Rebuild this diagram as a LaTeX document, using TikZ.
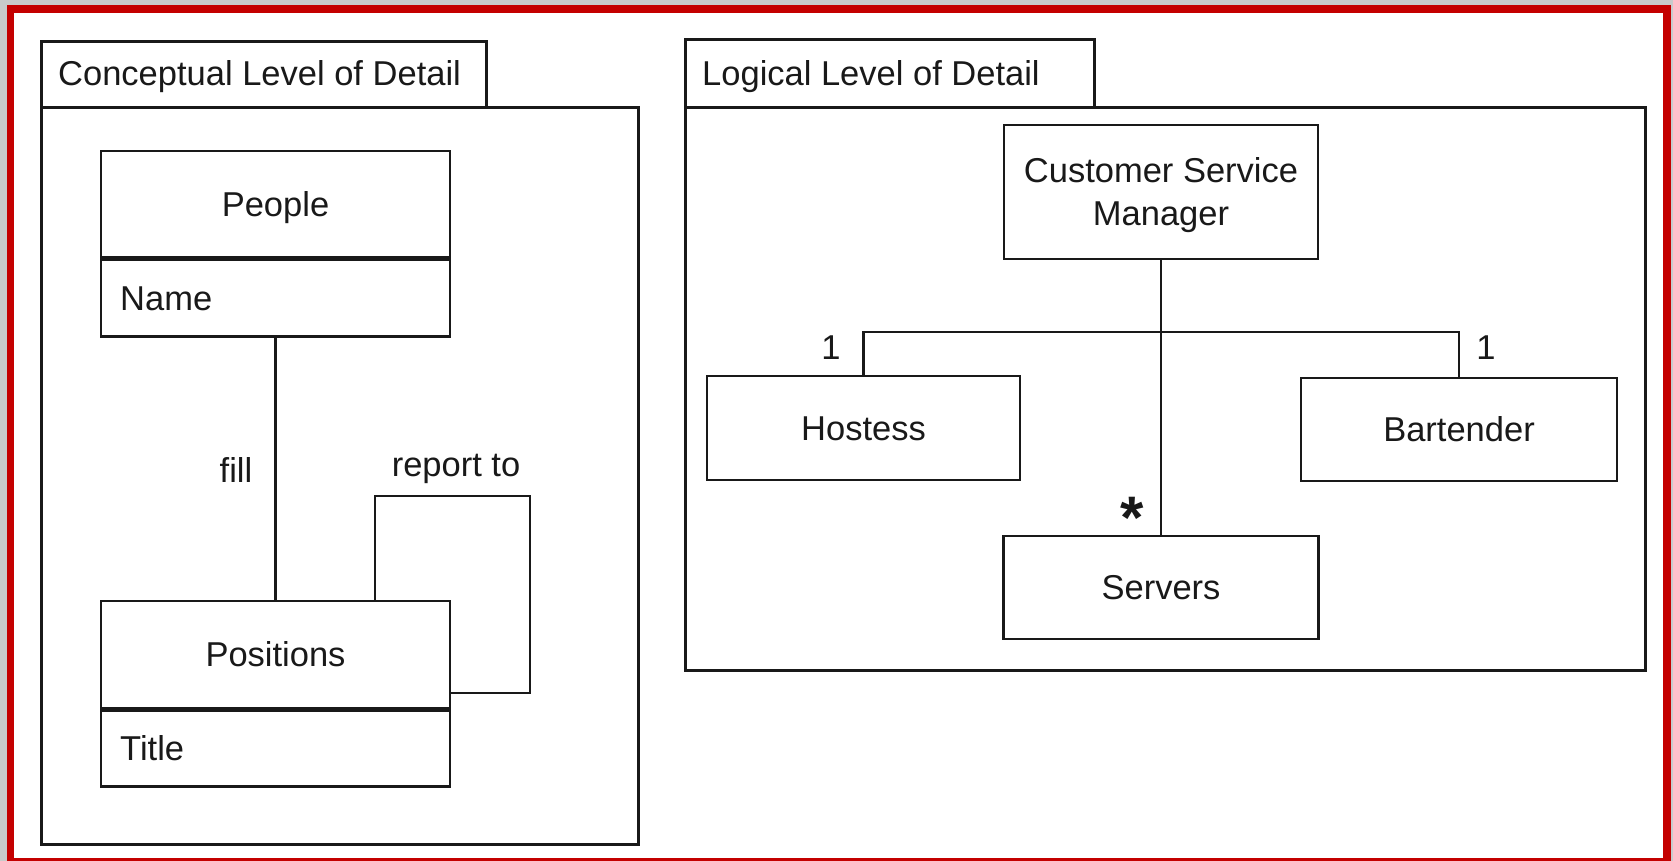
\documentclass[tikz,border=0pt]{standalone}
\usepackage{fontspec}
\setmainfont{Liberation Sans}
\definecolor{bordred}{RGB}{196,0,0}
\definecolor{edgegray}{RGB}{200,203,203}
\definecolor{ink}{RGB}{25,25,25}
\begin{document}
\begin{tikzpicture}[x=1pt,y=-1pt,
  every node/.style={text=ink},
  umlbox/.style={draw=ink, line width=2.9pt, inner sep=0pt, text height=24.7pt, text depth=0pt},
  txt/.style={inner sep=0pt, text height=24.7pt, text depth=0pt},
  wire/.style={draw=ink, line width=2.7pt},
  frameline/.style={draw=ink, line width=2.9pt}]
\fontsize{34.5}{43}\selectfont
% background and red border
\useasboundingbox (0,0) rectangle (1673,861);
\fill[edgegray] (0,0) rectangle (1673,861);
\fill[bordred] (7,5) rectangle (1671,861);
\fill[white] (14,13) rectangle (1663,858);

% ---------- Conceptual ----------
\node[umlbox, anchor=north west, minimum width=445pt, minimum height=66pt] (ctab) at (40,40) {};
\node[txt, anchor=west] (ctabtext) at (58,73) {Conceptual Level of Detail};
\node[umlbox, anchor=north west, minimum width=597pt, minimum height=737pt] (cframe) at (40,106) {};

\node[umlbox, minimum width=349pt, minimum height=106pt] (peopleHead) at (275.5,204) {People};
\node[umlbox, anchor=north, minimum width=349pt, minimum height=77pt] (peopleAttr) at (peopleHead.south) {};
\node[txt, anchor=west] (nameText) at (120,298) {Name};

\node[umlbox, minimum width=349pt, minimum height=107pt] (posHead) at (275.5,654.5) {Positions};
\node[umlbox, anchor=north, minimum width=349pt, minimum height=76pt] (posAttr) at (posHead.south) {};
\node[txt, anchor=west] (titleText) at (120,748) {Title};

\draw[wire] (peopleAttr.south) -- (posHead.north);
\node[txt] (fillText) at (236,470) {fill};

\coordinate (loopA) at (375,496);
\coordinate (loopB) at (530,693);
\draw[wire] (posHead.north -| loopA) -- (loopA) -| (loopB) -- (loopB -| posHead.east);
\node[txt] (reportText) at (456,464) {report to};

% ---------- Logical ----------
\node[umlbox, anchor=north west, minimum width=409pt, minimum height=68pt] (ltab) at (684,38) {};
\node[txt, anchor=west] (ltabtext) at (702,73) {Logical Level of Detail};
\node[umlbox, anchor=north west, minimum width=960pt, minimum height=563pt] (lframe) at (684,106) {};

\node[draw=ink, line width=2.9pt, inner sep=0pt, text depth=0pt, align=center,
      minimum width=314pt, minimum height=134pt] (csm) at (1161,192) {Customer Service\\Manager};
\node[umlbox, minimum width=313pt, minimum height=104pt] (hostess) at (863.5,428) {Hostess};
\node[umlbox, minimum width=316pt, minimum height=103pt] (bartender) at (1459,429.5) {Bartender};
\node[umlbox, minimum width=315pt, minimum height=103pt] (servers) at (1161,587.5) {Servers};

\coordinate (bar) at (863,332);
\draw[wire] (csm.south) -- (servers.north);
\draw[wire] (hostess.north) -- (hostess.north |- bar) -- (bartender.north |- bar) -- (bartender.north);

\node[txt] (oneL) at (831,347) {1};
\node[txt] (oneR) at (1486,347) {1};
\node[inner sep=0pt, anchor=base, font=\fontsize{60}{60}\selectfont\bfseries] (star) at (1132,538) {*};
\end{tikzpicture}
\end{document}
